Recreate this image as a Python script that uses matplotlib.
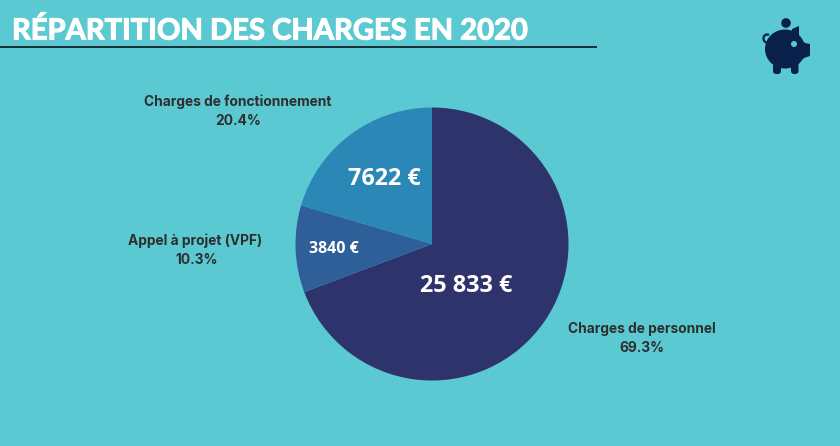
#!/usr/bin/env python3
"""Pie chart of the 2020 charges, on a teal background"""

import matplotlib
matplotlib.use('Agg')
import matplotlib.pyplot as plt
import matplotlib.patheffects as pe
from matplotlib.patches import Arc, Circle, Ellipse, FancyBboxPatch, Polygon

categories = ['Charges de personnel', 'Appel à projet (VPF)', 'Charges de fonctionnement']
amounts = [25833, 3840, 7622]
amount_labels = ['25 833 €', '3840 €', '7622 €']
percent_labels = ['69.3%', '10.3%', '20.4%']
colors = ['#2f336b', '#2e5f98', '#2b88b6']
title = 'RÉPARTITION DES CHARGES EN 2020'

BG = '#5bc9d2'
DARK = '#08204a'
TEXT = '#2e2e2e'

fig = plt.figure(figsize=(8.4, 4.46), dpi=100, facecolor=BG)
# axes in pixel coords, y going down like the image
ax = fig.add_axes([0, 0, 1, 1])
ax.set_facecolor(BG)

# y axis is flipped below, so data angles run clockwise on screen
ax.pie(amounts, startangle=-90, counterclock=True, colors=colors,
       center=(432, 244), radius=136.5, frame=True)
ax.set_xlim(0, 840)
ax.set_ylim(446, 0)
ax.set_aspect('equal')
ax.axis('off')

for w in ax.patches:
    w.set_linewidth(0)

ax.text(12, 31, title, color='white', fontsize=21, fontweight='bold',
        family='Lato', va='center', ha='left',
        path_effects=[pe.withStroke(linewidth=0.8, foreground='white')])
ax.plot([0, 597], [47, 47], color='#14232b', lw=1.3, solid_capstyle='butt')

# outside labels
label_pos = [(642, 329), (195, 241), (238, 102)]
percent_x = [641.5, 197, 238.5]
for (x, y), px, cat, pct in zip(label_pos, percent_x, categories, percent_labels):
    ax.text(x, y, cat, color=TEXT, fontsize=9.9, fontweight='bold', family='Inter',
            ha='center', va='center')
    ax.text(px, y + 19, pct, color=TEXT, fontsize=9.9, fontweight='bold', family='Inter',
            ha='center', va='center')

# amounts inside the slices
amount_pos = [(466, 286), (334, 249), (384, 179)]
amount_size = [16.8, 11.5, 16.8]
for (x, y), txt, size in zip(amount_pos, amount_labels, amount_size):
    ax.text(x, y, txt, color='white', fontsize=size, fontweight='bold', family='Open Sans',
            ha='center', va='center')

# piggy bank icon
ax.add_patch(Circle((786, 23), 4.8, color=DARK, lw=0))
ax.add_patch(Ellipse((785, 49), 40, 39, color=DARK, lw=0))
ax.add_patch(Polygon([(792, 29), (799, 26), (799, 38), (805, 43), (810, 44),
                      (810, 56), (804, 58), (797, 66), (790, 60)], color=DARK, lw=0))
ax.add_patch(FancyBboxPatch((773, 63), 8, 11, boxstyle='round,pad=0,rounding_size=3',
                            color=DARK, lw=0))
ax.add_patch(FancyBboxPatch((791, 63), 7.5, 11, boxstyle='round,pad=0,rounding_size=3',
                            color=DARK, lw=0))
ax.add_patch(Circle((794, 44), 3, color=BG, lw=0))
ax.add_patch(Arc((767, 38.5), 7, 8, theta1=90, theta2=300, color=DARK, lw=1.6))

fig.savefig('out.png', dpi=100, facecolor=BG)
